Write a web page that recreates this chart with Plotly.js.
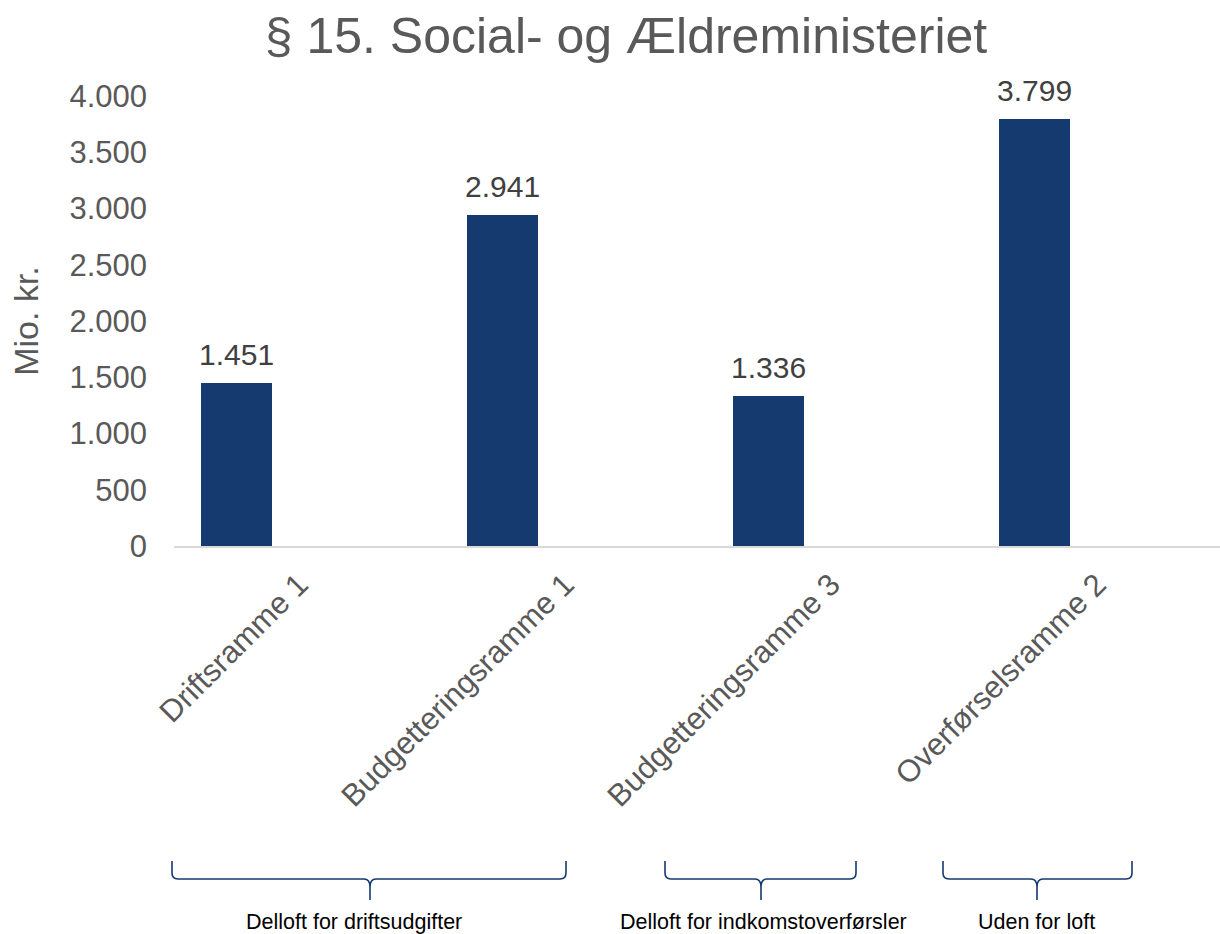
<!DOCTYPE html>
<html>
<head>
<meta charset="utf-8">
<script src="https://cdn.plot.ly/plotly-3.0.1.min.js"></script>
<style>
  html, body { margin: 0; padding: 0; background: #ffffff; }
  #chart { width: 1220px; height: 934px; }
</style>
</head>
<body>
<div id="chart"></div>
<script>
// ---- data ----
const categories = ["Driftsramme 1", "Budgetteringsramme 1", "Budgetteringsramme 3", "Overførselsramme 2"];
const values = [1451, 2941, 1336, 3799];
const yTickValues = [0, 500, 1000, 1500, 2000, 2500, 3000, 3500, 4000];
const groupLabels = ["Delloft for driftsudgifter", "Delloft for indkomstoverførsler", "Uden for loft"];
const chartTitle = "§ 15. Social- og Ældreministeriet";
const yAxisTitle = "Mio. kr.";

// ---- layout geometry (pixels) ----
const W = 1220, H = 934;
const M = { l: 174, r: 0, t: 96, b: 388 };
const plotW = W - M.l - M.r, plotH = H - M.t - M.b;
const px = X => (X - M.l) / plotW;
const py = Y => (H - M.b - Y) / plotH;

// brace geometry: [left, tip, right] in page pixels, and label centres
const braceX = [[172, 370, 566], [665, 761, 856], [943, 1037, 1132]];
const labelX = [354, 763, 1036];
const braceTop = 861, braceMid = 879, braceTip = 900, labelY = 922;
const navy = "#143a6f";
const font = "Liberation Sans, Arial, Helvetica, sans-serif";

const barOffset = -0.4, barWidth = 0.267;

function fmt(v) {
  return String(v).replace(/\B(?=(\d{3})+(?!\d))/g, ".");
}

function bracePath(x1, xm, x2) {
  const r = 6;
  const P = (X, Y) => px(X).toFixed(5) + "," + py(Y).toFixed(5);
  return "M" + P(x1, braceTop) +
    " L" + P(x1, braceMid - r) +
    " Q" + P(x1, braceMid) + " " + P(x1 + r, braceMid) +
    " L" + P(xm - r, braceMid) +
    " Q" + P(xm, braceMid) + " " + P(xm, braceMid + r + 2) +
    " L" + P(xm, braceTip) +
    " M" + P(xm, braceMid + r + 2) +
    " Q" + P(xm, braceMid) + " " + P(xm + r, braceMid) +
    " L" + P(x2 - r, braceMid) +
    " Q" + P(x2, braceMid) + " " + P(x2, braceMid - r) +
    " L" + P(x2, braceTop);
}

const trace = {
  type: "bar",
  x: categories,
  y: values,
  offset: barOffset,
  width: barWidth,
  marker: { color: navy, line: { width: 0 } },
  hoverinfo: "x+y"
};

const annotations = values.map((v, i) => ({
  x: i + barOffset + barWidth / 2,
  y: v,
  xref: "x", yref: "y",
  text: fmt(v),
  showarrow: false,
  yanchor: "bottom",
  yshift: 10,
  font: { family: font, size: 30, color: "#404040" }
}));

groupLabels.forEach((lab, i) => {
  annotations.push({
    x: px(labelX[i]),
    y: py(labelY),
    xref: "paper", yref: "paper",
    text: lab,
    showarrow: false,
    xanchor: "center", yanchor: "middle",
    font: { family: font, size: 21.5, color: "#000000" }
  });
});

const shapes = braceX.map(b => ({
  type: "path",
  xref: "paper", yref: "paper",
  path: bracePath(b[0], b[1], b[2]),
  line: { color: navy, width: 1.6 }
}));

const layout = {
  width: W, height: H,
  margin: M,
  paper_bgcolor: "#ffffff",
  plot_bgcolor: "#ffffff",
  separators: ",.",
  showlegend: false,
  font: { family: font, color: "#595959" },
  title: {
    text: chartTitle,
    font: { family: font, size: 50, color: "#595959" },
    xref: "container", yref: "container",
    x: 626 / W, xanchor: "center",
    y: 1 - 35 / H, yanchor: "middle"
  },
  xaxis: {
    type: "category",
    range: [-0.5, -0.5 + plotW / 266],
    tickangle: -45,
    tickfont: { family: font, size: 31, color: "#595959" },
    showline: true,
    linecolor: "#d9d9d9",
    linewidth: 2,
    showgrid: false,
    ticks: "",
    zeroline: false,
    automargin: false,
    ticklabelstandoff: 6,
    ticklabelshift: -8
  },
  yaxis: {
    range: [0, 4000],
    tickvals: yTickValues,
    ticktext: yTickValues.map(fmt),
    tickfont: { family: font, size: 31, color: "#595959" },
    showgrid: false,
    zeroline: false,
    showline: false,
    ticks: "",
    automargin: false,
    ticklabelstandoff: 26,
    title: {
      text: yAxisTitle,
      font: { family: font, size: 34, color: "#595959" },
      standoff: 20
    }
  },
  annotations: annotations,
  shapes: shapes,
  bargap: 0
};

Plotly.newPlot("chart", [trace], layout, { displayModeBar: false, responsive: false });
</script>
</body>
</html>
